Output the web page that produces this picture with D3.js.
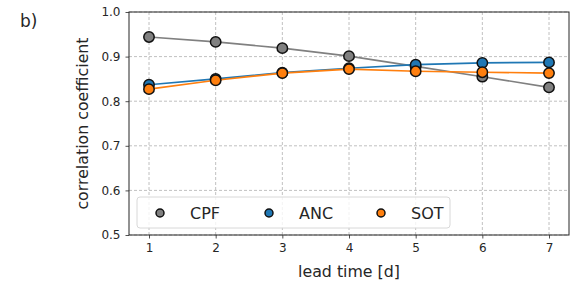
<!DOCTYPE html>
<html>
<head>
<meta charset="utf-8">
<script src="https://cdn.jsdelivr.net/npm/d3@7"></script>
<style>
body { margin: 0; background: #fff; }
text { font-family: "DejaVu Sans", sans-serif; fill: #262626; }
</style>
</head>
<body>
<script>
// lead time in days
var leadTimes = [1, 2, 3, 4, 5, 6, 7];
var cpf = [0.944, 0.933, 0.919, 0.901, 0.878, 0.855, 0.831];
var anc = [0.837, 0.850, 0.864, 0.874, 0.882, 0.886, 0.887];
var sot = [0.827, 0.847, 0.863, 0.872, 0.867, 0.865, 0.863];
var yTicks = [0.5, 0.6, 0.7, 0.8, 0.9, 1.0];
var seriesNames = ["CPF", "ANC", "SOT"];
var seriesColors = ["#808080", "#1f77b4", "#ff7f0e"];

var W = 586, H = 298;
var m = {left: 129, right: 569, top: 12, bottom: 235};

var svg = d3.select("body").append("svg").attr("width", W).attr("height", H);

var x = d3.scaleLinear().domain([0.7, 7.3]).range([m.left, m.right]);
var y = d3.scaleLinear().domain([0.5, 1.0]).range([m.bottom, m.top]);

// grid
svg.append("g").selectAll("line").data(leadTimes).enter().append("line")
	.attr("x1", function (d) { return x(d); }).attr("x2", function (d) { return x(d); })
	.attr("y1", m.top).attr("y2", m.bottom)
	.attr("stroke", "#b0b0b0").attr("stroke-width", 0.8).attr("stroke-dasharray", "3,2");
svg.append("g").selectAll("line").data(yTicks).enter().append("line")
	.attr("x1", m.left).attr("x2", m.right)
	.attr("y1", function (d) { return y(d); }).attr("y2", function (d) { return y(d); })
	.attr("stroke", "#b0b0b0").attr("stroke-width", 0.8).attr("stroke-dasharray", "3,2");

// axes
var xAxis = svg.append("g").attr("transform", "translate(0," + m.bottom + ")")
	.call(d3.axisBottom(x).tickValues(leadTimes).tickFormat(d3.format("d")).tickSize(3.5).tickPadding(5));
var yAxis = svg.append("g").attr("transform", "translate(" + m.left + ",0)")
	.call(d3.axisLeft(y).tickValues(yTicks).tickFormat(d3.format(".1f")).tickSize(3.5).tickPadding(5));
[xAxis, yAxis].forEach(function (a) {
	a.select(".domain").remove();
	a.selectAll("text").style("font-size", "12px").style("fill", "#262626");
	a.selectAll("line").attr("stroke", "#262626").attr("stroke-width", 0.8);
});

svg.append("rect").attr("x", m.left).attr("y", m.top)
	.attr("width", m.right - m.left).attr("height", m.bottom - m.top)
	.attr("fill", "none").attr("stroke", "#262626").attr("stroke-width", 1);

// series
var allSeries = [cpf, anc, sot];
var line = d3.line().x(function (d, i) { return x(leadTimes[i]); }).y(function (d) { return y(d); });

allSeries.forEach(function (vals, k) {
	svg.append("path").datum(vals).attr("d", line)
		.attr("fill", "none").attr("stroke", seriesColors[k]).attr("stroke-width", 1.6);
	svg.append("g").selectAll("circle").data(vals).enter().append("circle")
		.attr("cx", function (d, i) { return x(leadTimes[i]); })
		.attr("cy", function (d) { return y(d); })
		.attr("r", 5.2)
		.style("fill", seriesColors[k]).attr("stroke", "#111").attr("stroke-width", 1.5);
});

// legend
var leg = svg.append("g");
leg.append("rect").attr("x", 137).attr("y", 197).attr("width", 313).attr("height", 31)
	.attr("rx", 3).attr("fill", "rgba(255,255,255,0.8)").attr("stroke", "#d8d8d8").attr("stroke-width", 1);
var legX = [160, 269, 381];
seriesNames.forEach(function (n, k) {
	leg.append("circle").attr("cx", legX[k]).attr("cy", 213).attr("r", 4)
		.style("fill", seriesColors[k]).attr("stroke", "#111").attr("stroke-width", 1.5);
	leg.append("text").attr("x", legX[k] + 30).attr("y", 219).text(n).style("font-size", "16px");
});

// labels
svg.append("text").attr("x", (m.left + m.right) / 2).attr("y", 277).attr("text-anchor", "middle")
	.text("lead time [d]").style("font-size", "15.8px");
svg.append("text").attr("transform", "translate(88," + ((m.top + m.bottom) / 2) + ") rotate(-90)")
	.attr("text-anchor", "middle").text("correlation coefficient").style("font-size", "15.8px");
svg.append("text").attr("x", 20).attr("y", 27).text("b)").style("font-size", "17px");
</script>
</body>
</html>
